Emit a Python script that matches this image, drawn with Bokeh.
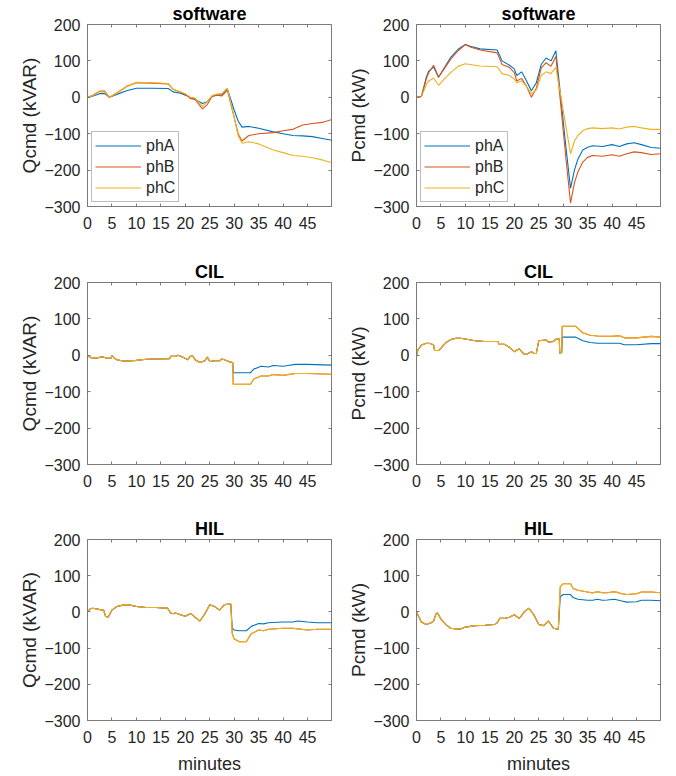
from bokeh.plotting import figure
from bokeh.models import Range1d, LinearAxis, FixedTicker, Legend, LegendItem, Title
from bokeh.layouts import column, row
from bokeh.embed import file_html
from bokeh.resources import INLINE

phase_labels = ["phA", "phB", "phC"]
phase_colors = ["#0072BD", "#D95319", "#EDB120"]
y_ticks = [-300, -200, -100, 0, 100, 200]
x_ticks = [0, 5, 10, 15, 20, 25, 30, 35, 40, 45]
x_label = "minutes"

# ---- software, reactive power (kVAR) ----
t_sw_q = [0, 1, 2.5, 3.5, 4.5, 6, 8, 10, 13, 16.5, 17.5, 19, 20, 21, 22, 23.5, 24.5, 25.5, 26.5, 27.5, 28.6,
          30, 30.8, 31.6, 33, 35, 38, 40, 42, 44, 46, 48, 50]
qA_sw = [0, 3, 10, 10, 0, 8, 18, 25, 25, 24, 15, 11, 6, 0, -5, -17, -12, 3, 6, 7, 23,
         -35, -65, -82, -80, -85, -95, -100, -105, -106, -108, -113, -118]
qB_sw = [0, 5, 17, 17, 0, 12, 30, 40, 39, 37, 22, 14, 8, -3, -6, -32, -20, 3, 6, 4, 20,
         -55, -100, -120, -105, -100, -97, -92, -88, -76, -72, -69, -61]
qC_sw = [0, 4, 15, 15, 0, 11, 29, 41, 40, 38, 22, 15, 10, 0, -2, -25, -12, 5, 9, 11, 25,
         -55, -105, -126, -122, -128, -145, -152, -160, -162, -166, -172, -180]

# ---- software, active power (kW) ----
t_sw_p = [0, 1, 2, 2.5, 3.5, 4.5, 6, 7, 8.5, 10, 11, 13, 16.5, 17.5, 19, 20, 20.5, 21.5, 22.5, 23.5,
          24.5, 25.5, 26.5, 27.5, 28.5, 29.5, 30.5, 31.5, 32.3, 33, 34, 35, 36, 38, 40, 41.5, 43, 44.5,
          46, 48, 50]
pA_sw = [0, 2, 55, 72, 83, 55, 88, 110, 132, 145, 140, 133, 130, 100, 88, 78, 60, 70, 45, 18,
         40, 90, 108, 100, 128, 0, -130, -250, -200, -170, -145, -137, -133, -135, -130, -135, -128, -125,
         -130, -138, -140]
pB_sw = [0, 2, 50, 68, 88, 55, 85, 105, 128, 145, 138, 130, 122, 90, 82, 68, 45, 52, 30, 0,
         25, 80, 95, 85, 112, -20, -160, -290, -235, -205, -178, -165, -160, -162, -158, -162, -155, -150,
         -152, -157, -155]
pC_sw = [0, 1, 35, 45, 53, 33, 55, 68, 85, 92, 90, 86, 84, 65, 60, 50, 40, 45, 30, 10,
         20, 60, 70, 65, 82, 5, -75, -155, -120, -105, -92, -86, -84, -86, -84, -87, -82, -80,
         -84, -88, -88]

# ---- CIL, reactive power (kVAR) ----
t_cil_q = [0, 0.5, 1, 2, 3, 4, 4.8, 5, 5.5, 6, 7, 8, 10, 12, 14, 16.8, 17, 18, 18.5, 19.5, 20.5, 21,
           21.5, 22, 23, 24, 24.5, 25, 26, 27, 27.5, 28, 29, 29.7, 29.8, 33.3, 34, 35.5, 37, 38, 40, 41,
           42.5, 45, 50]
qA_cil = [0, -5, -8, -7, -4, -8, -8, 0, -8, -12, -15, -16, -14, -11, -10, -9, -3, -3, 0, -5, -12, -3,
          -2, -12, -20, -15, -5, -17, -15, -15, -10, -12, -18, -20, -48, -48, -38, -30, -32, -28, -30, -28,
          -25, -25, -27]
qB_cil = [0, -5, -8, -7, -4, -8, -8, 0, -8, -12, -15, -16, -14, -11, -10, -9, -3, -3, 0, -5, -12, -3,
          -2, -12, -20, -15, -5, -17, -15, -15, -10, -12, -18, -20, -80, -80, -65, -57, -57, -53, -55, -53,
          -50, -50, -52]
qC_cil = [0, -5, -8, -7, -4, -8, -8, 0, -8, -12, -15, -16, -14, -11, -10, -9, -3, -3, 0, -5, -12, -3,
          -2, -12, -20, -15, -5, -17, -15, -15, -10, -12, -18, -20, -80, -80, -65, -57, -57, -53, -55, -53,
          -50, -50, -52]

# ---- CIL, active power (kW) ----
t_cil_p = [0, 0.3, 1, 2, 3, 3.5, 3.7, 4.5, 5, 6, 7, 8, 9, 10, 12, 14, 16.7, 16.8, 18, 19, 20, 21, 21.5,
           22, 22.5, 23.5, 24, 24.5, 25, 26.5, 27, 28, 28.5, 29.2, 29.3, 29.7, 29.8, 32.5, 34, 35.5, 37,
           40, 41.5, 42.5, 45, 48, 50]
pA_cil = [0, 15, 28, 33, 32, 28, 13, 13, 20, 35, 43, 47, 47, 45, 40, 38, 38, 30, 30, 22, 10, 18, 10,
          3, 3, 10, 5, 5, 40, 42, 36, 38, 44, 45, 5, 8, 50, 50, 40, 35, 33,
          33, 33, 29, 29, 32, 32]
pB_cil = [0, 15, 28, 33, 32, 28, 13, 13, 20, 35, 43, 47, 47, 45, 40, 38, 38, 30, 30, 22, 10, 18, 10,
          3, 3, 10, 5, 5, 40, 42, 36, 38, 44, 45, 5, 8, 80, 80, 62, 55, 53,
          52, 54, 48, 48, 52, 50]
pC_cil = [0, 15, 28, 33, 32, 28, 13, 13, 20, 35, 43, 47, 47, 45, 40, 38, 38, 30, 30, 22, 10, 18, 10,
          3, 3, 10, 5, 5, 40, 42, 36, 38, 44, 45, 5, 8, 80, 80, 62, 55, 53,
          52, 54, 48, 48, 52, 50]

# ---- HIL, reactive power (kVAR) ----
t_hil_q = [0, 0.5, 1, 2, 3, 3.3, 3.7, 4.2, 4.5, 5, 6, 7, 8, 9, 10, 12, 14, 16, 16.3, 17, 17.5, 18, 19,
           20, 21, 21.5, 22, 23, 24, 25, 26, 27, 28, 29.3, 29.6, 30, 31, 32.5, 33.5, 35, 36, 37, 40, 42,
           43, 45, 47, 50]
qA_hil = [0, 8, 10, 8, 5, 5, -12, -15, -8, 5, 15, 18, 20, 18, 15, 12, 12, 10, 12, -3, -5, -3, -8,
          -12, -5, -8, -15, -25, -5, 20, 15, 5, 20, 22, -45, -50, -52, -52, -40, -32, -33, -30, -28, -28,
          -25, -28, -30, -30]
qB_hil = [0, 8, 10, 8, 5, 5, -12, -15, -8, 5, 15, 18, 20, 18, 15, 12, 12, 10, 12, -3, -5, -3, -8,
          -12, -5, -8, -15, -25, -5, 20, 15, 5, 20, 22, -60, -75, -82, -82, -60, -50, -52, -48, -45, -45,
          -47, -50, -48, -48]
qC_hil = [0, 8, 10, 8, 5, 5, -12, -15, -8, 5, 15, 18, 20, 18, 15, 12, 12, 10, 12, -3, -5, -3, -8,
          -12, -5, -8, -15, -25, -5, 20, 15, 5, 20, 22, -60, -75, -82, -82, -60, -50, -52, -48, -45, -45,
          -47, -50, -48, -48]

# ---- HIL, active power (kW) ----
t_hil_p = [0, 0.5, 1, 2, 3, 3.5, 4, 4.3, 5, 6, 7, 8, 9, 10, 11, 12, 14, 16, 16.5, 17, 18, 19, 20, 21,
           21.5, 22, 23, 24, 25, 26, 27, 28, 29, 29.4, 30, 31.5, 32, 33, 35, 36, 37, 38, 39, 40.5, 42, 43,
           45, 46, 48, 50]
pA_hil = [0, -15, -28, -35, -30, -25, -5, -3, -20, -35, -45, -47, -47, -42, -40, -38, -37, -35, -30,
          -18, -18, -15, -8, -18, -10, 0, 10, -8, -35, -38, -25, -45, -48, 42, 48, 48, 40, 35, 32, 32,
          35, 32, 33, 35, 30, 27, 28, 32, 32, 31]
pB_hil = [0, -15, -28, -35, -30, -25, -5, -3, -20, -35, -45, -47, -47, -42, -40, -38, -37, -35, -30,
          -18, -18, -15, -8, -18, -10, 0, 10, -8, -35, -38, -25, -45, -48, 70, 78, 78, 65, 60, 55, 52,
          56, 53, 53, 56, 50, 48, 50, 55, 55, 53]
pC_hil = [0, -15, -28, -35, -30, -25, -5, -3, -20, -35, -45, -47, -47, -42, -40, -38, -37, -35, -30,
          -18, -18, -15, -8, -18, -10, 0, 10, -8, -35, -38, -25, -45, -48, 70, 78, 78, 65, 60, 55, 52,
          56, 53, 53, 56, 50, 48, 50, 55, 55, 53]

FONT = "Liberation Sans"
TEXT_COLOR = "#262626"
FRAME_COLOR = "#7a7a7a"


def make_panel(title, ylabel, t, series, col, rowi, with_legend):
    left = 87 if col == 0 else 78
    right = 7 if col == 0 else 16
    height = [258, 257, 261][rowi]
    bottom = [52, 51, 56][rowi]
    p = figure(width=338, height=height, output_backend="svg", toolbar_location=None,
               x_range=Range1d(0, 49.9), y_range=Range1d(-300, 200),
               min_border_left=left, min_border_right=right,
               min_border_top=24, min_border_bottom=bottom)
    p.title.text = title
    p.title.align = "center"
    p.title.text_font = FONT
    p.title.text_font_size = "18px"
    p.title.text_font_style = "bold"
    p.title.text_color = "#000000"
    p.title.standoff = 2
    p.grid.visible = False
    p.outline_line_color = FRAME_COLOR
    p.outline_line_width = 1
    p.background_fill_color = "white"
    p.border_fill_color = "white"

    for ax, ticks in ((p.xaxis[0], x_ticks), (p.yaxis[0], y_ticks)):
        ax.ticker = FixedTicker(ticks=ticks)
        ax.major_tick_in = 3
        ax.major_tick_out = 0
        ax.minor_tick_line_color = None
        ax.axis_line_color = FRAME_COLOR
        ax.major_tick_line_color = FRAME_COLOR
        ax.major_label_text_font = FONT
        ax.major_label_text_font_size = "16px"
        ax.major_label_text_color = TEXT_COLOR
        ax.axis_label_text_font = FONT
        ax.axis_label_text_font_size = "18px"
        ax.axis_label_text_font_style = "normal"
        ax.axis_label_text_color = TEXT_COLOR
    p.xaxis[0].major_label_standoff = 10
    p.yaxis[0].major_label_standoff = 7

    # y-axis label as a vertical title on the left (centred on the frame)
    ylab = Title(text=ylabel, align="center", text_font=FONT, text_font_size="19px",
                 text_font_style="normal", text_color=TEXT_COLOR, standoff=3)
    p.add_layout(ylab, "left")

    if rowi == 2:
        p.xaxis[0].axis_label = x_label
        p.xaxis[0].axis_label_standoff = 8

    # mirrored tick marks on the top and right edges (box on), no labels
    for side, ticks in (("right", y_ticks), ("above", x_ticks)):
        ax = LinearAxis(ticker=FixedTicker(ticks=ticks), major_tick_in=3, major_tick_out=0,
                        minor_tick_line_color=None, axis_line_color=None,
                        major_tick_line_color=FRAME_COLOR, major_label_text_font_size="0px",
                        major_label_text_color=None, major_label_standoff=0)
        p.add_layout(ax, side)

    renderers = []
    for vals, color in zip(series, phase_colors):
        r = p.line(t, vals, line_color=color, line_width=1.1)
        renderers.append(r)

    if with_legend:
        items = [LegendItem(label=lab, renderers=[r]) for lab, r in zip(phase_labels, renderers)]
        leg = Legend(items=items, location="bottom_left", margin=4, padding=3, spacing=0,
                     glyph_width=46, glyph_height=21, label_height=21, label_standoff=5,
                     label_text_font=FONT, label_text_font_size="16px", label_text_color=TEXT_COLOR,
                     border_line_color=FRAME_COLOR, border_line_width=1,
                     background_fill_color="white", background_fill_alpha=1)
        p.add_layout(leg, "center")
    return p


p1 = make_panel("software", "Qcmd (kVAR)", t_sw_q, [qA_sw, qB_sw, qC_sw], 0, 0, True)
p2 = make_panel("software", "Pcmd (kW)", t_sw_p, [pA_sw, pB_sw, pC_sw], 1, 0, True)
p3 = make_panel("CIL", "Qcmd (kVAR)", t_cil_q, [qA_cil, qB_cil, qC_cil], 0, 1, False)
p4 = make_panel("CIL", "Pcmd (kW)", t_cil_p, [pA_cil, pB_cil, pC_cil], 1, 1, False)
p5 = make_panel("HIL", "Qcmd (kVAR)", t_hil_q, [qA_hil, qB_hil, qC_hil], 0, 2, False)
p6 = make_panel("HIL", "Pcmd (kW)", t_hil_p, [pA_hil, pB_hil, pC_hil], 1, 2, False)

layout = column(row(p1, p2), row(p3, p4), row(p5, p6))

open("out.html", "w").write(file_html(layout, INLINE))
